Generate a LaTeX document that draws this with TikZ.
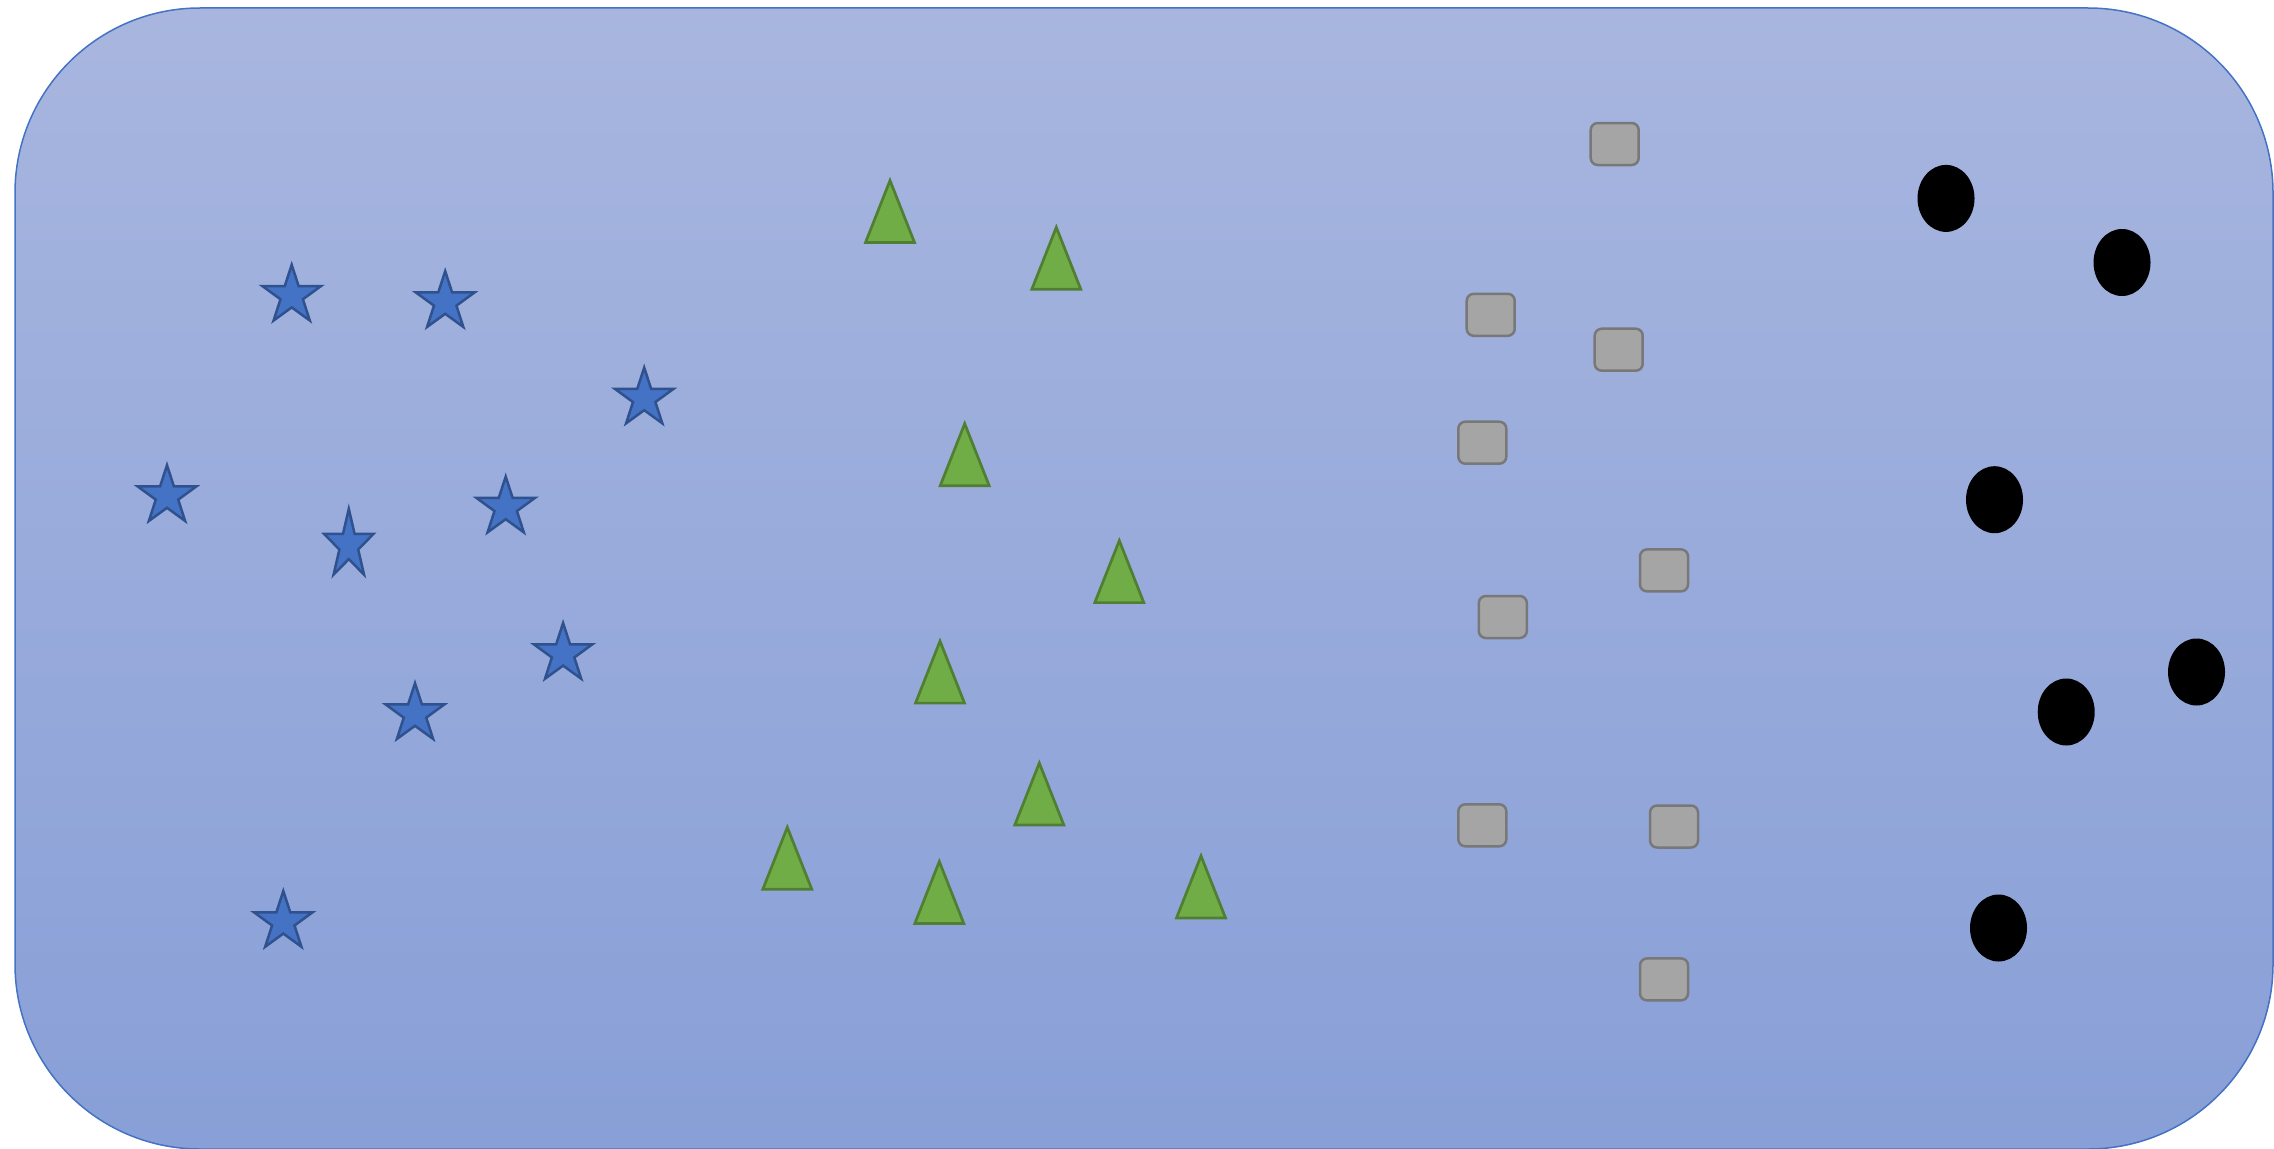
\documentclass[tikz,border=0pt]{standalone}
\usetikzlibrary{shapes.geometric}
\definecolor{bgtop}{RGB}{168,182,223}
\definecolor{bgbot}{RGB}{136,159,215}
\definecolor{bgline}{RGB}{68,114,196}
\definecolor{starfill}{RGB}{68,114,196}
\definecolor{starline}{RGB}{47,82,143}
\definecolor{trifill}{RGB}{112,173,71}
\definecolor{triline}{RGB}{80,126,50}
\definecolor{sqfill}{RGB}{165,165,165}
\definecolor{sqline}{RGB}{120,120,120}
\tikzset{
  starpic/.pic={\path[fill=starfill,draw=starline,line width=2.5pt,line join=miter]
    (-90:30.8) -- (-54:11.8) -- (-18:30.8) -- (18:11.8) -- (54:30.8) -- (90:11.8)
    -- (126:30.8) -- (162:11.8) -- (198:30.8) -- (234:11.8) -- cycle;},
  tripic/.pic={\path[fill=trifill,draw=triline,line width=2.7pt,line join=miter]
    (-24.5,0) -- (0,-62) -- (24.5,0) -- cycle;},
  sqbox/.style={rectangle,rounded corners=7pt,fill=sqfill,draw=sqline,line width=2.5pt,
    minimum width=48pt,minimum height=42pt,inner sep=0pt},
  dot/.style={ellipse,fill=black,draw=none,minimum width=57pt,minimum height=67pt,inner sep=0pt}
}
\begin{document}
\begin{tikzpicture}[x=1pt,y=-1pt]
\useasboundingbox (0,0) rectangle (2274,1148);
\clip (0,0) rectangle (2274,1148);
% background panel
\fill[top color=bgtop,bottom color=bgbot,rounded corners=185pt] (15,8) rectangle (2273,1149);
\draw[draw=bgline,line width=1.5pt,rounded corners=185pt] (15,8) rectangle (2273,1149);
% stars
\pic (sA) at (291.7,295.6) {starpic};
\pic (sB) at (445.2,302) {starpic};
\pic (sC) at (644.2,398.4) {starpic};
\pic (sD) at (167,496) {starpic};
\pic[xscale=0.84,yscale=1.18] (sE) at (348.8,545.2) {starpic};
\pic (sF) at (505.7,507.4) {starpic};
\pic (sG) at (563.1,653.8) {starpic};
\pic (sH) at (415,714) {starpic};
\pic (sI) at (283.3,921.8) {starpic};
% triangles
\pic (t1) at (890,242.5) {tripic};
\pic (t2) at (1056.3,289.3) {tripic};
\pic (t3) at (964.7,485.7) {tripic};
\pic (t4) at (1119.3,602.6) {tripic};
\pic (t5) at (940,703.1) {tripic};
\pic (t6) at (1039.3,825) {tripic};
\pic (t7) at (787.3,889.3) {tripic};
\pic (t8) at (939.3,923.5) {tripic};
\pic (t9) at (1201,917.9) {tripic};
% rounded squares
\node[sqbox] (q1) at (1614.7,144) {};
\node[sqbox] (q2) at (1490.7,314.8) {};
\node[sqbox] (q3) at (1618.7,349.7) {};
\node[sqbox] (q4) at (1482.3,442.7) {};
\node[sqbox] (q5) at (1664,570.4) {};
\node[sqbox] (q6) at (1502.8,617) {};
\node[sqbox] (q7) at (1482.3,825.3) {};
\node[sqbox] (q8) at (1674,826.5) {};
\node[sqbox] (q9) at (1664,979.4) {};
% black ellipses
\node[dot] (e1) at (1946,198.4) {};
\node[dot] (e2) at (2122,262.5) {};
\node[dot] (e3) at (1994.5,499.7) {};
\node[dot] (e4) at (2196.5,672) {};
\node[dot] (e5) at (2066.2,712) {};
\node[dot] (e6) at (1998.5,928) {};
\end{tikzpicture}
\end{document}
